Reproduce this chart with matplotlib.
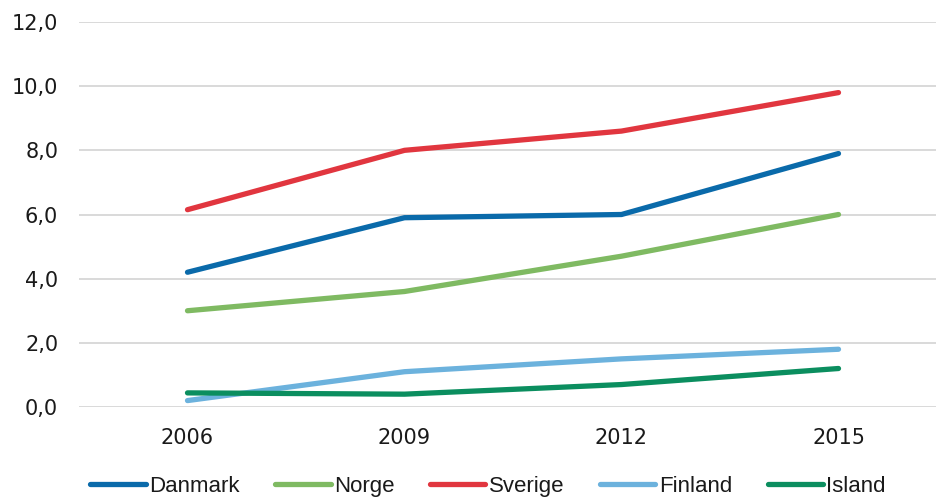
import matplotlib
matplotlib.use("Agg")
import matplotlib.pyplot as plt

years = ["2006", "2009", "2012", "2015"]
danmark = [4.2, 5.9, 6.0, 7.9]
norge = [3.0, 3.6, 4.7, 6.0]
sverige = [6.15, 8.0, 8.6, 9.8]
finland = [0.2, 1.1, 1.5, 1.8]
island = [0.44, 0.4, 0.7, 1.2]

series = [
    ("Danmark", danmark, "#0A6AAA"),
    ("Norge", norge, "#7FBA62"),
    ("Sverige", sverige, "#E1363F"),
    ("Finland", finland, "#6CB2DD"),
    ("Island", island, "#0B8E5F"),
]

W, H = 936, 498
fig = plt.figure(figsize=(W / 100, H / 100), dpi=100)
ax = fig.add_axes([79 / W, (H - 407) / H, (947 - 79) / W, (407 - 22) / H])

x = list(range(len(years)))
for name, vals, col in series:
    ax.plot(x, vals, color=col, lw=3.8, solid_capstyle="round", solid_joinstyle="round",
            label=name, clip_on=False)

ax.set_xlim(-0.5, 3.5)
ax.set_ylim(0, 12)
ax.set_yticks([0, 2, 4, 6, 8, 10, 12])
ax.set_yticklabels([f"{v:.1f}".replace(".", ",") for v in [0, 2, 4, 6, 8, 10, 12]])
ax.set_xticks(x)
ax.set_xticklabels(years)
ax.grid(axis="y", color="#D9D9D9", lw=1.4)
ax.set_axisbelow(True)
for s in ax.spines.values():
    s.set_visible(False)
ax.tick_params(axis="both", length=0, labelsize=15, colors="#1a1a1a", labelfontfamily="DejaVu Sans")
ax.tick_params(axis="y", pad=15)
ax.tick_params(axis="x", pad=15)

leg = fig.legend(loc="center", bbox_to_anchor=(488 / W, 1 - 486 / H), ncol=5, frameon=False,
                 prop={"family": "Liberation Sans", "size": 16}, handlelength=2.5,
                 handletextpad=0.15, columnspacing=1.6, borderpad=0)
for t in leg.get_texts():
    t.set_color("#1a1a1a")

fig.savefig("out.png", dpi=100)
